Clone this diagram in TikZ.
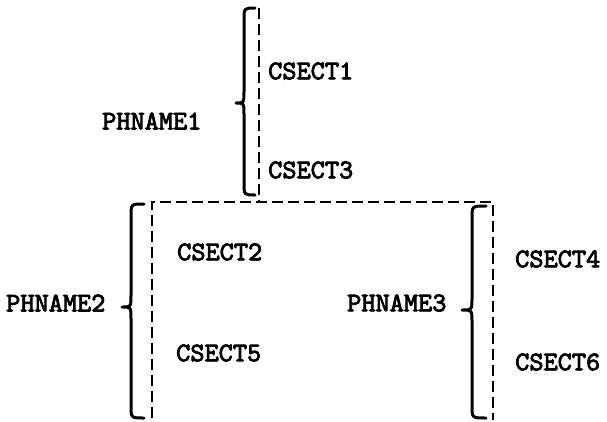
\documentclass[tikz,border=0pt]{standalone}
\usepackage{fontspec}
\newfontfamily\courbf[FakeBold=3]{lmmono10-regular.otf}
\begin{document}
\begin{tikzpicture}[x=1pt,y=-1pt,
  lbl/.style={font=\courbf\fontsize{27}{30}\selectfont, inner sep=0pt, anchor=west},
  dashline/.style={line width=2.9pt, dash pattern=on 11pt off 5pt},
  bracestyle/.style={line width=3pt, line cap=round, line join=round}]
\useasboundingbox (0,0) rectangle (607,421);
% coordinates for dashed lines
\coordinate (top) at (259,8);
\coordinate (junc) at (259,202);
\coordinate (lc) at (152,202);
\coordinate (rc) at (493,202);
\coordinate (lb) at (152,418);
\coordinate (rb) at (493,420);
\draw[dashline] (top) -- (junc);
\draw[dashline] (lb) -- (lc) -- (rc) -- (rb);
% braces
\draw[bracestyle] (255,8) .. controls (244,8) .. (244,20) -- (244,91) .. controls (244,103) .. (236,103) .. controls (244,103) .. (244,115) -- (244,183) .. controls (244,195) .. (255,195);
\draw[bracestyle] (144,204) .. controls (131,204) .. (131,216) -- (131,295) .. controls (131,307) .. (122,307) .. controls (131,307) .. (131,319) -- (131,406) .. controls (131,418) .. (144,418);
\draw[bracestyle] (486,206) .. controls (472,206) .. (472,218) -- (472,298) .. controls (472,310) .. (462,310) .. controls (472,310) .. (472,322) -- (472,406) .. controls (472,418) .. (486,418);
% labels
\node[lbl] (ph1) at (102,121) {PHNAME1};
\node[lbl] (c1) at (268,71) {CSECT1};
\node[lbl] (c3) at (268,170) {CSECT3};
\node[lbl] (ph2) at (6,303) {PHNAME2};
\node[lbl] (c2) at (177,252) {CSECT2};
\node[lbl] (c5) at (176,353) {CSECT5};
\node[lbl] (ph3) at (347,303) {PHNAME3};
\node[lbl] (c4) at (515,259) {CSECT4};
\node[lbl] (c6) at (515,362) {CSECT6};
\end{tikzpicture}
\end{document}
